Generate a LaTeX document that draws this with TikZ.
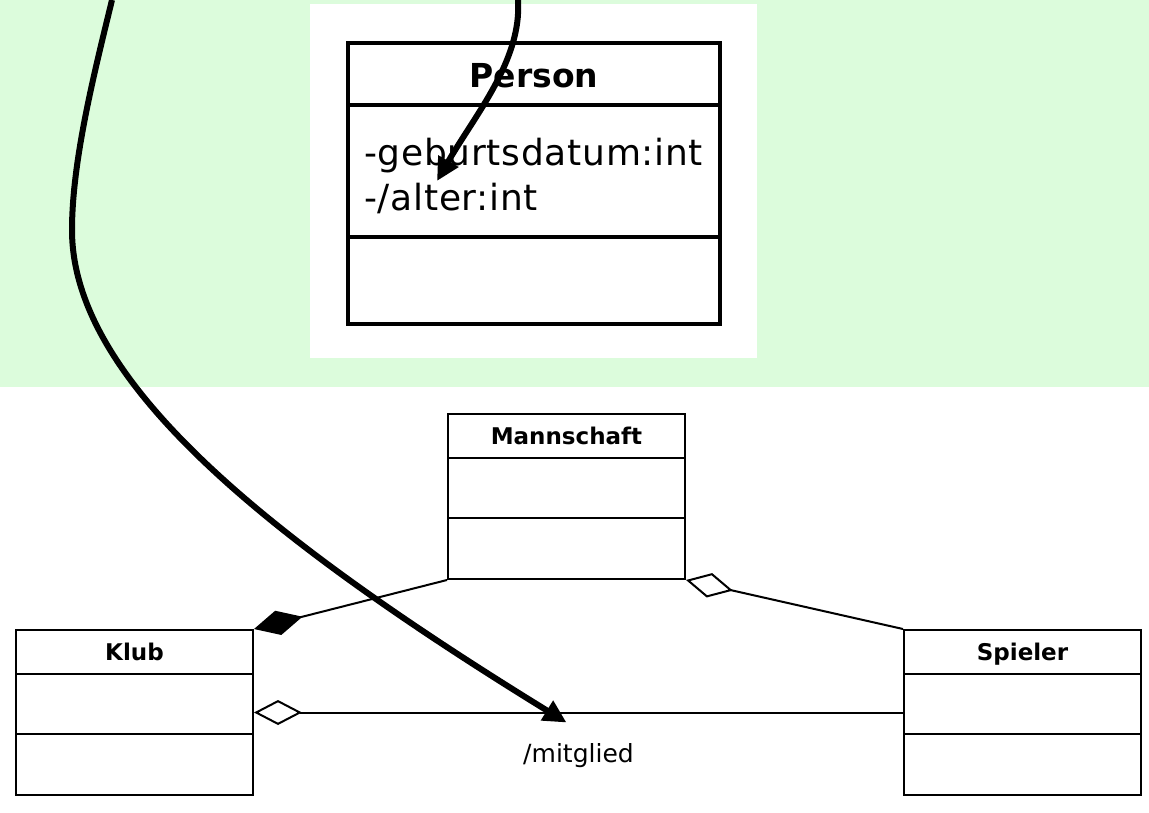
\documentclass[tikz,border=0pt]{standalone}
\usepackage{fontspec}
\setmainfont{DejaVu Sans}
\usepackage{xcolor}
\usetikzlibrary{arrows.meta, positioning}

\definecolor{areagreen}{RGB}{220,252,220}

\begin{document}
\begin{tikzpicture}[
    x=1pt, y=-1pt,
    classbox/.style={rectangle, draw, line width=2pt, anchor=north west, minimum width=237pt, minimum height=165pt, inner sep=0pt},
    personbox/.style={rectangle, draw, line width=4pt, anchor=north west, minimum width=372pt, minimum height=281pt, inner sep=0pt},
    classname/.style={font=\fontsize{23}{28}\selectfont\bfseries, inner sep=0pt, anchor=base},
    personname/.style={font=\fontsize{33}{40}\selectfont\bfseries, inner sep=0pt, anchor=base},
    attrtext/.style={font=\fontsize{36}{45}\selectfont\addfontfeatures{LetterSpace=2}, inner sep=0pt, anchor=base west},
    rolename/.style={font=\fontsize{25}{30}\selectfont, inner sep=0pt},
    divider/.style={line width=2pt},
    comp/.style={line width=2pt, -{Diamond[length=50pt, width=25pt]}},
    aggr/.style={line width=2pt, -{Diamond[open, length=48pt, width=25pt]}},
    derive/.style={line width=6pt, -{Triangle[length=23pt, width=22pt]}}
]
\useasboundingbox (0,0) rectangle (1149,812);

% background areas
\fill[areagreen] (0,0) rectangle (1149,387);
\fill[white] (310,4) rectangle (757,358);

% Person
\node[personbox] (person) at (346,41) {};
\node[personname] (person-title) at ([yshift=-46pt]person.north) {Person};
\draw[line width=4pt] ([yshift=-64pt]person.north west) -- ([yshift=-64pt]person.north east);
\draw[line width=4pt] ([yshift=-196pt]person.north west) -- ([yshift=-196pt]person.north east);
\node[attrtext] (gebdatum) at (364,165) {-geburtsdatum:int};
\node[attrtext] (alter) at ([yshift=-45pt]gebdatum.base west) {-/alter:int};

% Klassen unten
\foreach \cname/\ctitle/\cx/\cy in {mannschaft/Mannschaft/447/413, klub/Klub/15/629, spieler/Spieler/903/629} {
  \node[classbox] (\cname) at (\cx,\cy) {};
  \node[classname] (\cname-title) at ([yshift=-31pt]\cname.north) {\ctitle};
  \draw[divider] ([yshift=-45pt]\cname.north west) -- ([yshift=-45pt]\cname.north east);
  \draw[divider] ([yshift=-105pt]\cname.north west) -- ([yshift=-105pt]\cname.north east);
}

% Assoziationen
\draw[comp] (mannschaft.south west) -- (klub.north east);
\draw[aggr] (spieler.north west) -- (mannschaft.south east);
\draw[aggr] (spieler.west) -- node[rolename, below=30pt] (mitglied) {/mitglied} (klub.east);

% abgeleitete Elemente
\coordinate (altersrc) at (518,0);
\coordinate (altertip) at ([xshift=73pt, yshift=29pt]alter.base west);
\coordinate (mitgliedsrc) at (112,0);
\coordinate (mitgliedtip) at ([xshift=-12pt, yshift=20pt]mitglied.north);

\draw[derive] (altersrc) .. controls (522,60) and (475,115) .. (altertip);
\draw[derive] (mitgliedsrc) .. controls (95,70) and (72,160) .. (72,230)
    .. controls (72,380) and (265,537) .. (mitgliedtip);

\end{tikzpicture}
\end{document}
